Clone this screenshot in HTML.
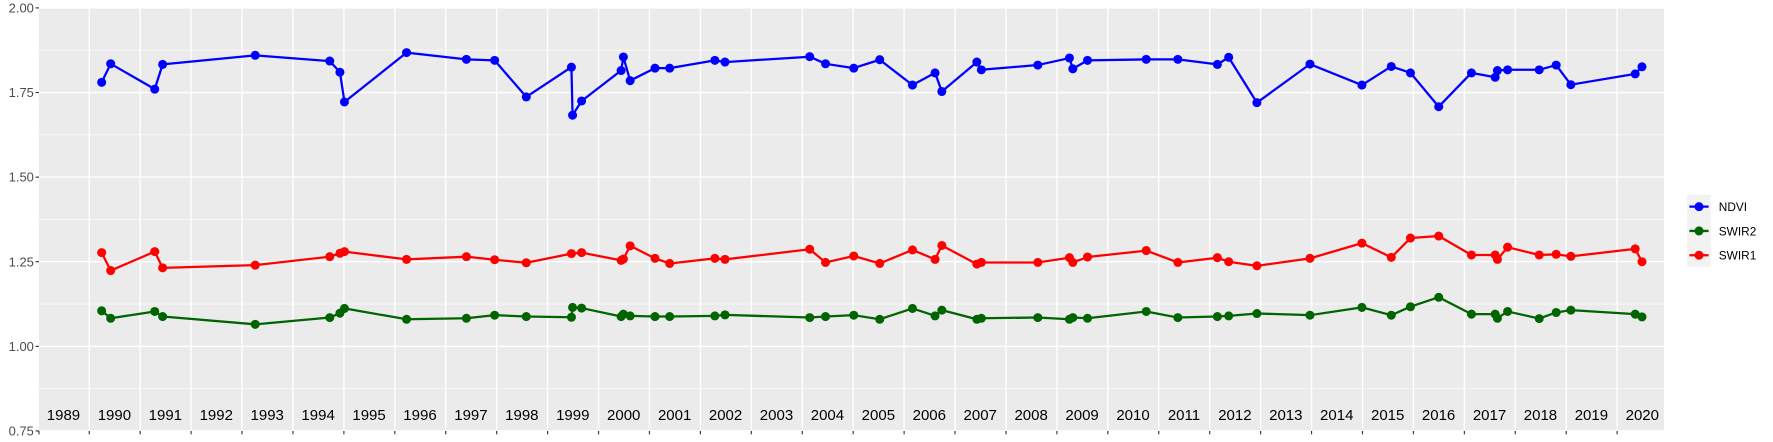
<!DOCTYPE html>
<html><head><meta charset="utf-8"><style>
html,body{margin:0;padding:0;background:#fff;}
svg{display:block;font-family:"Liberation Sans",sans-serif;}
</style></head><body>
<svg id="s" width="1773" height="442" viewBox="0 0 1570 391.4" xmlns="http://www.w3.org/2000/svg">
<rect x="34.5" y="7" width="1439" height="374.6" fill="#ebebeb"/>
<g id="grid"></g>
<g id="ylab" font-size="11.5" fill="#4d4d4d" text-anchor="end">
<text x="30" y="11">2.00</text>
<text x="30" y="85.9">1.75</text>
<text x="30" y="160.8">1.50</text>
<text x="30" y="235.8">1.25</text>
<text x="30" y="310.7">1.00</text>
<text x="30" y="385.6">0.75</text>
</g>
<g font-size="13.3" fill="#000" text-anchor="middle">
<text x="56.2" y="372">1989</text><text x="101.3" y="372">1990</text><text x="146.4" y="372">1991</text><text x="191.5" y="372">1992</text><text x="236.6" y="372">1993</text><text x="281.7" y="372">1994</text><text x="326.8" y="372">1995</text><text x="371.9" y="372">1996</text><text x="417" y="372">1997</text><text x="462.1" y="372">1998</text><text x="507.2" y="372">1999</text><text x="552.3" y="372">2000</text><text x="597.4" y="372">2001</text><text x="642.5" y="372">2002</text><text x="687.6" y="372">2003</text><text x="732.7" y="372">2004</text><text x="777.8" y="372">2005</text><text x="822.9" y="372">2006</text><text x="868" y="372">2007</text><text x="913.1" y="372">2008</text><text x="958.2" y="372">2009</text><text x="1003.3" y="372">2010</text><text x="1048.4" y="372">2011</text><text x="1093.5" y="372">2012</text><text x="1138.6" y="372">2013</text><text x="1183.7" y="372">2014</text><text x="1228.8" y="372">2015</text><text x="1273.9" y="372">2016</text><text x="1319" y="372">2017</text><text x="1364.1" y="372">2018</text><text x="1409.2" y="372">2019</text><text x="1454.3" y="372">2020</text>
</g>
<g id="data"></g>
<rect x="1494" y="172.5" width="21" height="63.5" fill="#f2f2f2"/>
<g stroke-width="2"><line x1="1496" y1="183" x2="1513" y2="183" stroke="#0000ff"/><line x1="1496" y1="204.5" x2="1513" y2="204.5" stroke="#006400"/><line x1="1496" y1="226" x2="1513" y2="226" stroke="#ff0000"/></g>
<circle cx="1504.5" cy="183" r="4" fill="#0000ff"/><circle cx="1504.5" cy="204.5" r="4" fill="#006400"/><circle cx="1504.5" cy="226" r="4" fill="#ff0000"/>
<g font-size="10.5" fill="#000"><text x="1522" y="187">NDVI</text><text x="1522" y="208.5">SWIR2</text><text x="1522" y="230">SWIR1</text></g>
</svg>
<script>
var NS="http://www.w3.org/2000/svg";
function el(p,t,a){var e=document.createElementNS(NS,t);for(var k in a)e.setAttribute(k,a[k]);p.appendChild(e);return e;}
function Y(v){return 7+(2-v)*299.7;}
var g=document.getElementById("grid"),s=document.getElementById("s");
for(var v=0.875;v<2;v+=0.25)el(g,"line",{x1:34.5,x2:1473.5,y1:Y(v),y2:Y(v),stroke:"#fff","stroke-width":0.6});
for(var v=0.75;v<=2.001;v+=0.25){el(g,"line",{x1:34.5,x2:1473.5,y1:Y(v),y2:Y(v),stroke:"#fff","stroke-width":1.2});el(g,"line",{x1:31.5,x2:34.5,y1:Y(v),y2:Y(v),stroke:"#333","stroke-width":1});}
for(var k=0;k<=30;k++){var x=79+45.1*k;el(g,"line",{x1:x,x2:x,y1:7,y2:381.6,stroke:"#fff","stroke-width":1.2});el(g,"line",{x1:x,x2:x,y1:381.6,y2:384.6,stroke:"#333","stroke-width":1});}
el(g,"line",{x1:34.5,x2:34.5,y1:381.6,y2:384.6,stroke:"#333","stroke-width":1});
var X=[90,98,137,144,226,292,301,305,360,413,438,466,506,507,515,550,552,558,580,593,633,642,717,731,756,779,808,828,834,865,869,919,947,950,963,1015,1043,1078,1088,1113,1160,1206,1232,1249,1274,1303,1324,1326,1335,1363,1378,1391,1448,1454];
var ND=[[90,1.78],[98,1.835],[137,1.76],[144,1.833],[226,1.86],[292,1.843],[301,1.81],[305,1.722],[360,1.868],[413,1.848],[438,1.845],[466,1.737],[506,1.825],[507,1.683],[515,1.725],[550,1.815],[552,1.855],[558,1.785],[580,1.822],[593,1.822],[633,1.845],[642,1.84],[717,1.856],[731,1.835],[756,1.822],[779,1.847],[808,1.772],[828,1.808],[834,1.753],[865,1.84],[869,1.817],[919,1.831],[947,1.852],[950,1.82],[963,1.845],[1015,1.848],[1043,1.848],[1078,1.833],[1088,1.854],[1113,1.72],[1160,1.834],[1206,1.772],[1232,1.827],[1249,1.808],[1274,1.708],[1303,1.808],[1324,1.795],[1326,1.815],[1335,1.817],[1363,1.817],[1378,1.831],[1391,1.773],[1448,1.805],[1454,1.826]];
var S1=[[90,1.277],[98,1.224],[137,1.28],[144,1.232],[226,1.24],[292,1.265],[301,1.275],[305,1.28],[360,1.257],[413,1.265],[438,1.256],[466,1.247],[506,1.274],[515,1.277],[550,1.254],[552,1.258],[558,1.297],[580,1.26],[593,1.245],[633,1.26],[642,1.257],[717,1.287],[731,1.248],[756,1.267],[779,1.245],[808,1.285],[828,1.257],[834,1.298],[865,1.243],[869,1.248],[919,1.248],[947,1.262],[950,1.248],[963,1.264],[1015,1.283],[1043,1.248],[1078,1.262],[1088,1.25],[1113,1.238],[1160,1.26],[1206,1.305],[1232,1.263],[1249,1.32],[1274,1.326],[1303,1.27],[1324,1.27],[1326,1.257],[1335,1.293],[1363,1.27],[1378,1.272],[1391,1.266],[1448,1.288],[1454,1.25]];
var S2=[[90,1.105],[98,1.083],[137,1.103],[144,1.088],[226,1.065],[292,1.085],[301,1.098],[305,1.112],[360,1.08],[413,1.083],[438,1.092],[466,1.088],[506,1.086],[507,1.115],[515,1.113],[550,1.088],[552,1.095],[558,1.09],[580,1.088],[593,1.088],[633,1.09],[642,1.093],[717,1.085],[731,1.088],[756,1.092],[779,1.08],[808,1.112],[828,1.09],[834,1.107],[865,1.08],[869,1.083],[919,1.085],[947,1.08],[950,1.085],[963,1.083],[1015,1.103],[1043,1.085],[1078,1.088],[1088,1.09],[1113,1.097],[1160,1.092],[1206,1.115],[1232,1.092],[1249,1.117],[1274,1.145],[1303,1.095],[1324,1.095],[1326,1.083],[1335,1.103],[1363,1.082],[1378,1.1],[1391,1.107],[1448,1.095],[1454,1.087]];
var d=document.getElementById("data");
[[ND,"#0000ff"],[S2,"#006400"],[S1,"#ff0000"]].forEach(function(sr){
 var pts=sr[0].map(function(p){return p[0]+","+Y(p[1]).toFixed(1);}).join(" ");
 el(d,"polyline",{points:pts,fill:"none",stroke:sr[1],"stroke-width":2,"stroke-linejoin":"round"});
 sr[0].forEach(function(p){el(d,"circle",{cx:p[0],cy:Y(p[1]),r:4,fill:sr[1]});});
});
</script>
</body></html>
